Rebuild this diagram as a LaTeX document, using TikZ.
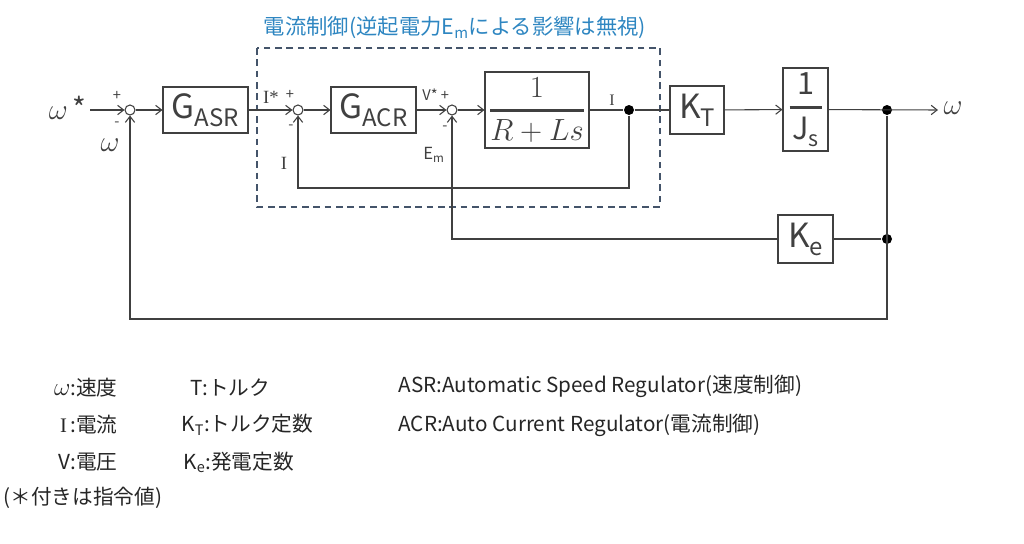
\RequirePackage{fix-cm}
\documentclass[tikz,border=0pt]{standalone}
\usepackage{amsmath}
\usepackage[no-math]{fontspec}
\setmainfont{Noto Sans CJK JP}
\newfontfamily\rmlatin{Liberation Serif}
\usetikzlibrary{arrows.meta}
\definecolor{wire}{RGB}{64,64,64}
\definecolor{framec}{RGB}{68,84,106}
\definecolor{titlec}{RGB}{46,134,193}
\newcommand{\gainsub}[2]{{\fontsize{25}{25}\selectfont #1}\raisebox{-6pt}{\fontsize{18}{18}\selectfont #2}}

\begin{document}
\begin{tikzpicture}[x=0.75pt, y=-0.75pt, line width=0.8pt, color=wire,
  >={Straight Barb[length=4.5pt,width=7pt]},
  blk/.style={draw, inner sep=0pt, align=center},
  sum/.style={circle, draw, inner sep=0pt, minimum size=7.5pt},
  dot/.style={circle, fill=black, inner sep=0pt, minimum size=7.5pt},
  sgn/.style={font=\fontsize{11}{11}\selectfont, inner sep=0pt},
  sig/.style={font=\rmlatin\fontsize{14}{14}\selectfont, inner sep=0pt},
  omg/.style={font=\fontsize{22}{22}\selectfont, inner sep=0pt},
  leg/.style={font=\fontsize{15.5}{15.5}\selectfont, inner sep=0pt, text=black!85}]

\useasboundingbox (0,0) rectangle (1024,543);

% blocks
\node[sum] (s1) at (130,110) {};
\node[blk, minimum width=63.75pt, minimum height=34.5pt] (asr) at (205.5,110) {\gainsub{G}{ASR}};
\node[sum] (s2) at (298,110) {};
\node[blk, minimum width=63.75pt, minimum height=34.5pt] (acr) at (373.5,110) {\gainsub{G}{ACR}};
\node[sum] (s3) at (452,110) {};
\node[blk, minimum width=78pt, minimum height=57pt, font=\fontsize{23}{23}\selectfont]
  (plant) at (537,110) {$\genfrac{}{}{2pt}{0}{1}{R+Ls}$};
\node[dot] (d1) at (629,110) {};
\node[blk, minimum width=40.5pt, minimum height=36pt] (kt) at (697,110) {\gainsub{K}{T}};
\node[blk, minimum width=33.75pt, minimum height=62.25pt, font=\fontsize{23}{23}\selectfont]
  (inertia) at (805.5,109.5)
  {$\genfrac{}{}{2pt}{0}{\hbox{1}}{\hbox to 24pt{\hss J\raisebox{-5pt}{\fontsize{16}{16}\selectfont s}\hss}}$};
\node[dot] (d2) at (887,110) {};
\node[blk, minimum width=41.25pt, minimum height=36pt] (ke) at (805.5,239) {\gainsub{K}{e}};
\node[dot] (d3) at (887,239) {};

\coordinate (win)  at (90,110);
\coordinate (wout) at (938,110);
\coordinate (ibot) at (0,188);
\coordinate (wbot) at (0,319);

% current loop frame
\draw[framec, line width=1.3pt, dash pattern=on 5pt off 3.5pt] (257,48) rectangle (660,207);
\node[text=titlec, font=\fontsize{16}{16}\selectfont] (title) at (455,28)
  {電流制御(逆起電力E\textsubscript{m}による影響は無視)};

% forward path
\draw[->] (win) -- (s1);
\draw[->] (s1) -- (asr);
\draw[->] (asr) -- (s2);
\draw[->] (s2) -- (acr);
\draw[->] (acr) -- (s3);
\draw[->] (s3) -- (plant);
\draw (plant) -- (d1) -- (kt);
\draw[->] (kt) -- (inertia);
\draw[->] (inertia) -- (wout);

% feedback
\draw[->] (d1) -- (d1 |- ibot) -| (s2);
\draw[->] (d2) -- (d2 |- wbot) -| (s1);
\draw (d3) -- (ke);
\draw[->] (ke) -| (s3);

% signal labels
\node[omg, anchor=east] (lwin) at (87,108) {$\omega$\,*};
\node[omg] (lwfb) at (110,145) {$\omega$};
\node[sgn] (p1) at (117,96) {+};
\node[sgn] (m1) at (117,124) {-};
\node[sig] (listar) at (271,97) {I*};
\node[sgn] (p2) at (290,95) {+};
\node[sgn] (m2) at (291,127) {-};
\node[sig] (lifb) at (284,163) {I};
\node[sgn] (lvstar) at (430,95) {V*};
\node[sgn] (p3) at (445,96) {+};
\node[sgn] (m3) at (445,128) {-};
\node[font=\fontsize{12.5}{12.5}\selectfont, inner sep=0pt] (lem) at (434,155) {E\textsubscript{m}};
\node[sig, font=\rmlatin\fontsize{12}{12}\selectfont] (li) at (612,100) {I};
\node[omg] (lwout) at (953,108) {$\omega$};

% legend
\node[leg, anchor=east] (kw) at (118,388) {{\fontsize{19}{19}\selectfont$\omega$}:速度};
\node[leg, anchor=east] (ki) at (118,425) {{\rmlatin I}\,:電流};
\node[leg, anchor=east] (kv) at (118,462) {V:電圧};
\node[leg, anchor=west] (knote) at (3,498) {(＊付きは指令値)};
\node[leg, anchor=west] (kt2) at (190,388) {T:トルク};
\node[leg, anchor=west] (kkt) at (181,425) {K\textsubscript{T}:トルク定数};
\node[leg, anchor=west] (kke) at (183,462) {K\textsubscript{e}:発電定数};
\node[leg, anchor=west] (kasr) at (398,386) {ASR:Automatic Speed Regulator(速度制御)};
\node[leg, anchor=west] (kacr) at (398,425) {ACR:Auto Current Regulator(電流制御)};

\end{tikzpicture}
\end{document}
